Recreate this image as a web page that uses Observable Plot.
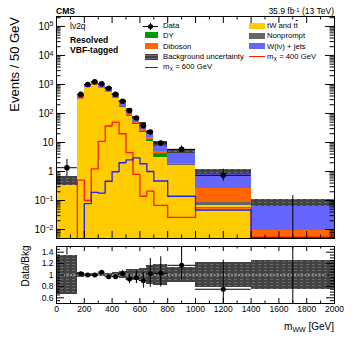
<!DOCTYPE html>
<html><head><meta charset="utf-8">
<script src="https://cdn.jsdelivr.net/npm/d3@7"></script>
<script src="https://cdn.jsdelivr.net/npm/@observablehq/plot@0.6"></script>
<style>
html,body{margin:0;padding:0;background:#fff}
#chart{position:relative;width:353px;height:339px;overflow:hidden;font-family:"Liberation Sans",Arial,Helvetica,sans-serif;color:#000}
#chart svg{position:absolute;left:0}
.lbl{position:absolute;white-space:nowrap;line-height:1}
.lbl sup{font-size:70%;vertical-align:0;position:relative;top:-0.45em;line-height:0}
.lbl sub{font-size:70%;vertical-align:0;position:relative;top:0.3em;line-height:0}
.ov{text-decoration:overline}
.sw{position:absolute}
</style></head><body><div id="chart"></div>
<script>
// ---------------- data ----------------
const binLo = [0,150,200,250,300,350,400,450,500,550,600,650,700,800,1000,1400];
const binHi = [150,200,250,300,350,400,450,500,550,600,650,700,800,1000,1400,2000];

// backgrounds (Events / 50 GeV), stacked bottom -> top
const ttbar     = [0.35,300,760,920,720,530,320,165,80,42.5,22.5,11,3.15,1.6,0.065,0.003];
const dyBkg     = [0.005,3,5,6,5,4,3,2,1.5,1,0.8,0.8,0.75,0.05,0.003,0.0005];
const nonprompt = [0.1,8,15,20,20,15,10,6,3,2,1.2,0.8,0.4,0.05,0.015,0.001];
const diboson   = [0.01,5,10,14,14,12,9,7,5,3.5,2.5,1.8,0.6,0.25,0.17,0.005];
const wjets     = [0.025,130,210,270,240,200,128,80,45,25,15,8,4.4,3.0,0.72,0.075];
const bkgRelUnc = [0.34,0.04,0.03,0.03,0.03,0.035,0.045,0.06,0.09,0.1,0.12,0.16,0.19,0.13,0.22,0.25];

// signals
const sigX400 = [0,0.5,0.1,1.23,11,37,50,20,4.5,0.8,0.14,0.21,0.068,0.026,0.056,0.0055];
const sigX600 = [0,0,0.078,0.19,0.18,0.46,0.98,2.0,2.5,2.95,1.85,1.0,0.47,0.14,0.047,0.0052];

// data
const dataVal = [1.35,455,1000,1230,1050,740,455,265,126,70,38,23,9.6,5.8,0.74,0];
const dataLo  = [0.65,440,985,1215,1035,728,445,257,120,65.5,34.5,20.5,8.1,4.9,0.46,0];
const dataHi  = [2.6,470,1015,1245,1065,752,465,273,132,74.5,41.5,25.5,11.2,7.6,1.2,0.147];

// ratio panel
const ratioVal = [2.75,1.02,1.00,1.00,1.05,0.97,0.97,1.02,0.93,0.95,0.90,1.02,1.03,1.17,0.75,0];
const ratioLo  = [1.35,0.99,0.98,0.98,1.02,0.94,0.93,0.97,0.85,0.85,0.77,0.78,0.79,0.91,0.45,0];
const ratioHi  = [5,1.05,1.02,1.02,1.08,1.00,1.01,1.08,1.01,1.07,1.04,1.29,1.32,1.48,1.26,1.75];

// ticks
const yTickVals   = [0.01,0.1,1,10,100,1000,10000,100000];
const yTickLabels = ["10^-2","10^-1","1","10","10^2","10^3","10^4","10^5"];
const xTickVals   = [0,200,400,600,800,1000,1200,1400,1600,1800,2000];
const xTickLabels = ["0","200","400","600","800","1000","1200","1400","1600","1800","2000"];
const rTickVals   = [0.6,0.8,1,1.2,1.4];
const rTickLabels = ["0.6","0.8","1","1.2","1.4"];

// colours
const layerColors = ["#ffcc00","#009a00","#666666","#ff6600","#6666ff"];
const red = "#ff1a00", blue = "#2020ff";
const hatchDark = "#424242", hatchLight = "#6c6c6c";

// text
const legendLeft  = ["Data","DY","Diboson","Background uncertainty","m<sub>X</sub> = 600 GeV"];
const legendRight = ["tW and t<span class='ov'>t</span>","Nonprompt","W(l&nu;) + jets","m<sub>X</sub> = 400 GeV"];

// ---------------- build ----------------
const yMin = 0.0049, yMax = 2.2e5, FLOOR = 1e-7;
const rMin = 0.5, rMax = 1.5;
const W = 353, mL = 56, mR = 19;
const frameW = W - mL - mR;
const mainH = 242, mainTop = 16, mainBot = 4, mainFH = mainH - mainTop - mainBot;
const ratH = 97, ratTop = 4, ratBot = 36, ratFH = ratH - ratTop - ratBot;

const bins = binLo.map((lo,i)=>({i, lo, hi: binHi[i], mid: (lo+binHi[i])/2}));
const layers = [ttbar, dyBkg, nonprompt, diboson, wjets];
const cum = bins.map(()=>0);
const stackMarks = layers.map((vals,k)=>{
  const rows = bins.map((b,i)=>{ const y1 = cum[i]; cum[i] += vals[i]; return {lo:b.lo, hi:b.hi, y1: Math.max(y1, FLOOR), y2: cum[i]}; });
  return Plot.rect(rows, {x1:"lo", x2:"hi", y1:"y1", y2:"y2", fill: layerColors[k], shapeRendering:"crispEdges", clip:true});
});
const totals = cum.slice();
const bandRows = bins.map((b,i)=>({lo:b.lo, hi:b.hi, y1: totals[i]*(1-bkgRelUnc[i]), y2: totals[i]*(1+bkgRelUnc[i])}));
const ratioBandRows = bins.map((b,i)=>({lo:b.lo, hi:b.hi, y1: 1-bkgRelUnc[i], y2: 1+bkgRelUnc[i]}));

function steps(vals){
  const pts = [];
  bins.forEach((b,i)=>{ const v = vals[i] > 0 ? vals[i] : FLOOR; pts.push({x:b.lo, y:v},{x:b.hi, y:v}); });
  return pts;
}
const dataRows = bins.map((b,i)=>({lo:b.lo, hi:b.hi, mid:b.mid, v: dataVal[i] > 0 ? dataVal[i] : FLOOR, elo: dataLo[i] > 0 ? dataLo[i] : FLOOR, ehi: dataHi[i], show: dataVal[i] > 0}));
const ratioRows = bins.map((b,i)=>({lo:b.lo, hi:b.hi, mid:b.mid, r: ratioVal[i], elo: ratioLo[i], ehi: ratioHi[i], show: ratioVal[i] > 0}));

const yMinor = [];
for (let e=-3; e<=5; e++) for (let m=2; m<=9; m++){ const v = m*Math.pow(10,e); if (v>yMin && v<yMax) yMinor.push(v); }
const xMinor = d3.range(100, 2000, 200);
const rMinor = d3.range(0.5, 1.5001, 0.05).map(v=>+v.toFixed(2)).filter(v=>!rTickVals.includes(v));

function yTickMarks(vals, len, fw){
  return [Plot.tickY(vals, {y:d=>d, insetRight: fw-len, stroke:"#000", strokeWidth:1}),
          Plot.tickY(vals, {y:d=>d, insetLeft: fw-len, stroke:"#000", strokeWidth:1})];
}
function xTickMarks(vals, len, fh){
  return [Plot.tickX(vals, {x:d=>d, insetTop: fh-len, stroke:"#000", strokeWidth:1}),
          Plot.tickX(vals, {x:d=>d, insetBottom: fh-len, stroke:"#000", strokeWidth:1})];
}
const svgStyle = "font-family:'Liberation Sans',Arial,Helvetica,sans-serif;font-size:10px;background:transparent;overflow:visible;";

const main = Plot.plot({
  width: W, height: mainH, marginTop: mainTop, marginBottom: mainBot, marginLeft: mL, marginRight: mR,
  style: svgStyle,
  x: {domain:[0,2000], axis:null},
  y: {type:"log", domain:[yMin,yMax], axis:null},
  marks: [
    ...stackMarks,
    Plot.rect(bandRows, {x1:"lo", x2:"hi", y1:"y1", y2:"y2", fill:"url(#hatchMain)", shapeRendering:"crispEdges", clip:true}),
    Plot.line(steps(sigX400), {x:"x", y:"y", stroke: red, strokeWidth:1.3, clip:true}),
    Plot.line(steps(sigX600), {x:"x", y:"y", stroke: blue, strokeWidth:1.3, clip:true}),
    Plot.ruleY(dataRows, {y:"v", x1:"lo", x2:"hi", stroke:"#000", strokeWidth:1, clip:true}),
    Plot.ruleX(dataRows, {x:"mid", y1:"elo", y2:"ehi", stroke:"#000", strokeWidth:1, clip:true}),
    Plot.dot(dataRows.filter(d=>d.show), {x:"mid", y:"v", r:2.8, fill:"#000", clip:true}),
    ...yTickMarks(yMinor, 4.5, frameW),
    ...yTickMarks(yTickVals, 9, frameW),
    ...xTickMarks(xMinor, 3.5, mainFH),
    ...xTickMarks(xTickVals.slice(1,-1), 7, mainFH),
    Plot.text(yTickVals, {y:d=>d, text:(d,i)=>yTickLabels[i], frameAnchor:"left", dx:-3, textAnchor:"end", fontSize:10, fill:"#000"}),
    Plot.frame({stroke:"#000", strokeWidth:1})
  ]
});

const ratio = Plot.plot({
  width: W, height: ratH, marginTop: ratTop, marginBottom: ratBot, marginLeft: mL, marginRight: mR,
  style: svgStyle,
  x: {domain:[0,2000], axis:null},
  y: {domain:[rMin,rMax], axis:null},
  marks: [
    Plot.rect(ratioBandRows, {x1:"lo", x2:"hi", y1:"y1", y2:"y2", fill:"url(#hatchRatio)", shapeRendering:"crispEdges", clip:true}),
    Plot.ruleY([1], {stroke:"#d8d8d8", strokeWidth:1, strokeDasharray:"2,1.5"}),
    Plot.ruleY(ratioRows, {y:"r", x1:"lo", x2:"hi", stroke:"#000", strokeWidth:1, clip:true}),
    Plot.ruleX(ratioRows, {x:"mid", y1:"elo", y2:"ehi", stroke:"#000", strokeWidth:1, clip:true}),
    Plot.dot(ratioRows.filter(d=>d.show), {x:"mid", y:"r", r:2.5, fill:"#000", clip:true}),
    ...yTickMarks(rMinor, 4, frameW),
    ...yTickMarks(rTickVals, 8, frameW),
    ...xTickMarks(xMinor, 2.5, ratFH),
    ...xTickMarks(xTickVals.slice(1,-1), 5, ratFH),
    Plot.text(rTickVals, {y:d=>d, text:(d,i)=>rTickLabels[i], frameAnchor:"left", dx:-3, textAnchor:"end", fontSize:8.5, fill:"#000"}),
    Plot.text(xTickVals, {x:d=>d, text:(d,i)=>xTickLabels[i], frameAnchor:"bottom", dy:8, fontSize:8.5, fill:"#000"}),
    Plot.frame({stroke:"#000", strokeWidth:1})
  ]
});

function addHatch(svg, id){
  const defs = d3.select(svg).insert("defs", ":first-child");
  const p = defs.append("pattern").attr("id", id).attr("patternUnits","userSpaceOnUse").attr("width",6).attr("height",3);
  p.append("rect").attr("width",6).attr("height",3).attr("fill",hatchDark);
  p.append("rect").attr("x",0).attr("y",1).attr("width",3).attr("height",1).attr("fill",hatchLight);
}
function supify(svg){
  d3.select(svg).selectAll("text").each(function(){
    const s = this.textContent;
    const m = s.match(/^(.*)\^(.*)$/);
    if (!m) return;
    const t = d3.select(this);
    t.text(null);
    t.append("tspan").text(m[1]);
    t.append("tspan").attr("dy","-0.45em").attr("font-size","70%").text(m[2].replace("-","\u2212"));
  });
}
addHatch(main, "hatchMain");
addHatch(ratio, "hatchRatio");
supify(main);

const chart = document.getElementById("chart");
main.style.top = "0px";
ratio.style.top = mainH + "px";
chart.appendChild(main);
chart.appendChild(ratio);

// ---------------- text overlays ----------------
function label(html, x, base, fs, opt={}){
  const d = document.createElement("div");
  d.className = "lbl"; d.innerHTML = html;
  d.style.fontSize = fs + "px";
  if (opt.bold) d.style.fontWeight = "bold";
  d.style.top = (base - 0.847*fs) + "px";
  if (opt.anchor === "end") d.style.right = (W - x) + "px"; else d.style.left = x + "px";
  chart.appendChild(d);
}
function vlabel(text, cx, y, fs, align){
  const d = document.createElement("div");
  d.className = "lbl"; d.textContent = text; d.style.fontSize = fs + "px";
  d.style.left = (cx - fs/2) + "px"; d.style.top = y + "px";
  d.style.transformOrigin = "0 0";
  d.style.transform = `rotate(-90deg) translateX(${align==="end" ? "-100%" : "-50%"})`;
  chart.appendChild(d);
}
function box(x, y, w, h, css){
  const d = document.createElement("div"); d.className = "sw";
  d.style.left = x+"px"; d.style.top = y+"px"; d.style.width = w+"px"; d.style.height = h+"px";
  Object.assign(d.style, css); chart.appendChild(d); return d;
}

label("CMS", 56, 14.5, 8.5, {bold:true});
label("35.9 fb<sup>-1</sup> (13 TeV)", 334, 14.5, 8.5, {anchor:"end"});
label("l&nu;2q", 70, 29, 8.5);
label("Resolved", 70, 43.5, 8.6, {bold:true});
label("VBF-tagged", 70, 53, 8.6, {bold:true});

vlabel("Events / 50 GeV", 14, 17, 13, "end");
vlabel("Data/Bkg", 26, 266, 10, "middle");
label("m<sub>WW</sub> [GeV]", 334, 330.5, 10, {anchor:"end"});

// legend
const hatchCss = {background:`repeating-linear-gradient(to bottom, ${hatchDark} 0px, ${hatchDark} 1px, ${hatchLight} 1px, ${hatchLight} 2px, ${hatchDark} 2px, ${hatchDark} 3px)`};
const leftBase = [29, 38.5, 49.3, 59.6, 70];
const rightBase = [29, 38.5, 49.2, 59.6];
// left column
box(143, 25.5, 15, 1, {background:"#000"});
box(150, 22.5, 1, 7, {background:"#000"});
box(148, 23.5, 5, 5, {background:"#000", borderRadius:"50%"});
box(145, 32.3, 12.5, 6, {background: layerColors[1]});
box(145, 43.3, 12.5, 6, {background: layerColors[3]});
box(145, 53.7, 12.5, 6, hatchCss);
box(145, 66.5, 13, 1.3, {background: blue});
legendLeft.forEach((t,i)=>label(t, 163, leftBase[i], 7.7));
// right column
box(248.5, 23, 16, 6.3, {background: layerColors[0]});
box(248.5, 32.5, 16, 6.3, {background: layerColors[2]});
box(248.5, 43, 16, 6.3, {background: layerColors[4]});
box(248.5, 56.2, 16, 1.3, {background: red});
legendRight.forEach((t,i)=>label(t, 267, rightBase[i], 7.7));
</script></body></html>
